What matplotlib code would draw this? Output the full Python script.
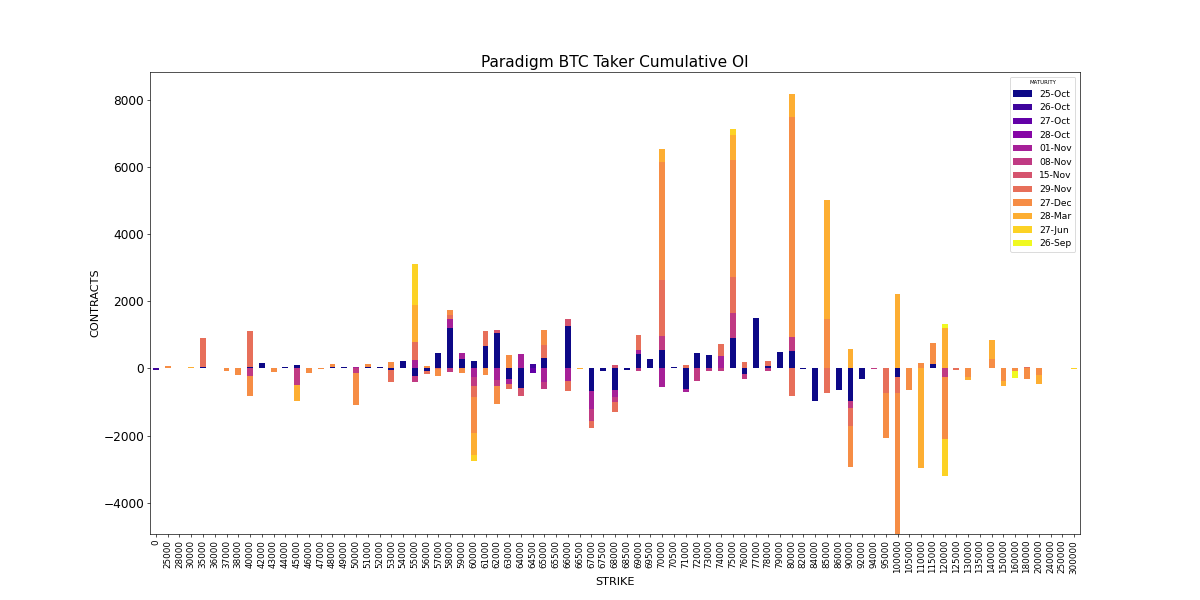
import matplotlib
matplotlib.use("Agg")
import matplotlib.pyplot as plt
import pandas as pd

strikes = ["0", "25000", "28000", "30000", "35000", "36000", "37000", "38000", "40000",
           "42000", "43000", "44000", "45000", "46000", "47000", "48000", "49000", "50000",
           "51000", "52000", "53000", "54000", "55000", "56000", "57000", "58000", "59000",
           "60000", "61000", "62000", "63000", "64000", "64500", "65000", "65500", "66000",
           "66500", "67000", "67500", "68000", "68500", "69000", "69500", "70000", "70500",
           "71000", "72000", "73000", "74000", "75000", "76000", "77000", "78000", "79000",
           "80000", "82000", "84000", "85000", "86000", "90000", "92000", "94000", "95000",
           "100000", "105000", "110000", "115000", "120000", "125000", "130000", "135000",
           "140000", "150000", "160000", "180000", "200000", "240000", "250000", "300000"]

maturities = ["25-Oct", "26-Oct", "27-Oct", "28-Oct", "01-Nov", "08-Nov", "15-Nov",
              "29-Nov", "27-Dec", "28-Mar", "27-Jun", "26-Sep"]

# open interest per maturity, keyed by strike (missing strikes = 0)
oi_25oct = {"35000": 30, "40000": 30, "42000": 150, "44000": 50, "45000": 110, "48000": 40,
            "49000": 50, "51000": 40, "52000": 40, "53000": -40, "54000": 210, "55000": -210,
            "56000": -90, "57000": 460, "58000": 1220, "59000": 290, "60000": 210, "61000": 660,
            "62000": 1060, "63000": -310, "64000": -580, "65000": 320, "66000": 1260,
            "67000": -680, "67500": -80, "68000": -640, "68500": -60, "69000": 420,
            "69500": 270, "70000": 560, "70500": 30, "71000": -620, "72000": 460, "73000": 400,
            "74000": 20, "75000": 915, "76000": -170, "77000": 1490, "78000": 60, "79000": 500,
            "80000": 520, "82000": -30, "84000": -970, "86000": -640, "90000": -970,
            "92000": -320, "100000": -250, "115000": 120}
oi_26oct = {"0": -60, "64500": 120}
oi_27oct = {"64500": -130}
oi_28oct = {"57000": 15}
oi_01nov = {"50000": 40, "55000": 240, "58000": 240, "59000": 170, "60000": -250,
            "62000": -350, "63000": -160, "64000": 420, "65000": -400, "66000": -360,
            "67000": -530, "68000": -200, "69000": 120, "70000": -540, "71000": -70,
            "74000": 340}
oi_08nov = {"40000": -220, "45000": -490, "50000": -130, "55000": -180, "58000": -100,
            "60000": -260, "62000": -160, "65000": -220, "67000": -350, "68000": -170,
            "69000": -80, "70000": 400, "72000": -370, "73000": -80, "74000": -80,
            "75000": 725, "76000": -130, "78000": -80, "80000": 410, "90000": -200,
            "94000": -30, "120000": -250, "240000": 20}
oi_15nov = {"62000": 80, "64000": -250, "66000": 210, "68000": 110}
oi_29nov = {"35000": 870, "40000": 1100, "46000": 20, "53000": -360, "55000": 550,
            "56000": -70, "57000": -30, "58000": 130, "60000": -350, "61000": 460,
            "63000": -140, "65000": 370, "66000": -320, "67000": -220, "68000": -280,
            "69000": 460, "70000": 1670, "71000": 100, "74000": 370, "75000": 1075,
            "76000": 180, "78000": 170, "80000": -810, "85000": -720, "90000": -550,
            "95000": -720, "100000": -490, "125000": -40, "180000": 40}
oi_27dec = {"25000": 60, "37000": -90, "38000": -200, "40000": -610, "43000": -110,
            "46000": -130, "47000": -30, "48000": 80, "50000": -960, "51000": 90,
            "53000": 180, "56000": 60, "57000": -200, "58000": 150, "59000": -140,
            "60000": -1050, "61000": -200, "62000": -560, "63000": 390, "65000": 450,
            "70000": 3520, "75000": 3500, "80000": 6560, "85000": 1480, "90000": -1210,
            "95000": -1340, "100000": -5200, "105000": -650, "110000": 160, "115000": 630,
            "120000": -1840, "130000": -250, "140000": 290, "150000": -360, "160000": -70,
            "180000": -310, "200000": -200}
oi_28mar = {"28000": 15, "30000": 50, "36000": 10, "45000": -470, "55000": 1100,
            "60000": -670, "66500": -10, "70000": 380, "75000": 750, "80000": 690,
            "85000": 3550, "90000": 580, "100000": 2220, "110000": -2960, "120000": 1220,
            "130000": -80, "135000": 15, "140000": 570, "150000": -150, "200000": -250,
            "250000": 20}
oi_27jun = {"55000": 1230, "60000": -180, "75000": 180, "120000": -1110, "300000": -10}
oi_26sep = {"120000": 100, "160000": -200}

series = [oi_25oct, oi_26oct, oi_27oct, oi_28oct, oi_01nov, oi_08nov, oi_15nov,
          oi_29nov, oi_27dec, oi_28mar, oi_27jun, oi_26sep]

df = pd.DataFrame({m: [d.get(s, 0) for s in strikes] for m, d in zip(maturities, series)},
                  index=strikes)

fig, ax = plt.subplots(figsize=(20, 10), dpi=60)
df.plot(kind="bar", stacked=True, colormap="plasma", ax=ax, width=0.5, legend=False)
ax.set_ylim(-4930, 8830)
ax.set_title("Paradigm BTC Taker Cumulative OI", fontsize=18.5)
ax.set_xlabel("STRIKE", fontsize=13.5)
ax.set_ylabel("CONTRACTS", fontsize=13.5)
ax.tick_params(axis="x", labelsize=10.5, labelrotation=90)
ax.tick_params(axis="y", labelsize=14.5)
ax.legend(title="MATURITY", fontsize=11, title_fontsize=6.5, loc="upper right")
fig.savefig("out.png", dpi=60)
